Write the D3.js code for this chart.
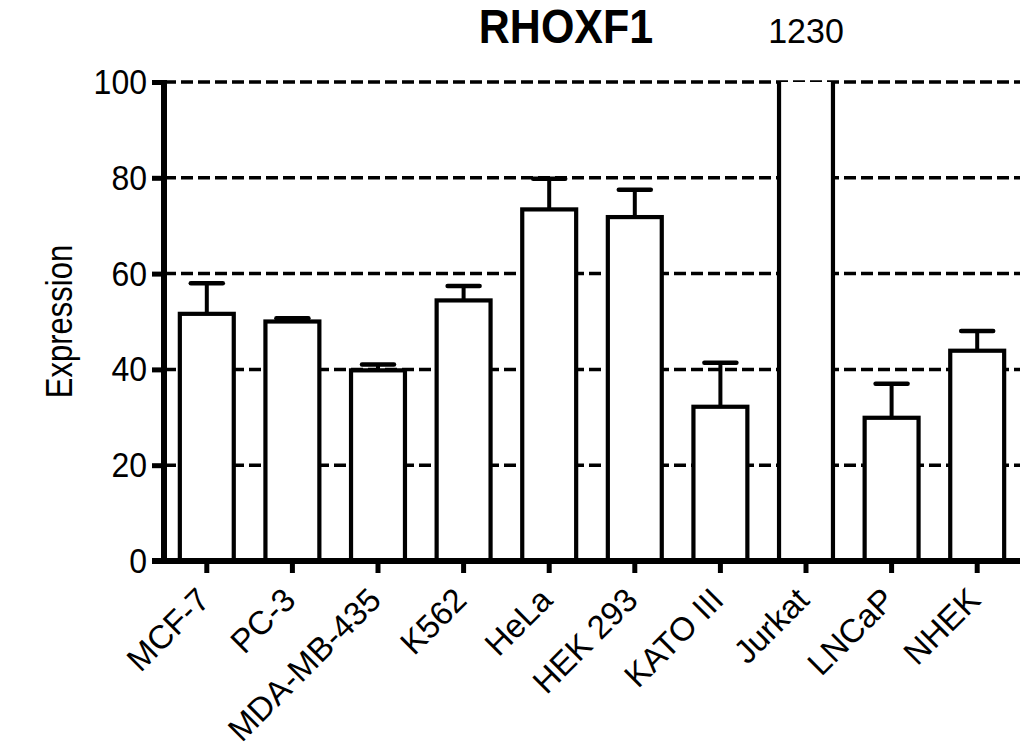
<!DOCTYPE html>
<html>
<head>
<meta charset="utf-8">
<script src="https://cdn.jsdelivr.net/npm/d3@7"></script>
<style>
  body { margin: 0; background: #fff; }
  svg { display: block; font-family: "Liberation Sans", Arial, Helvetica, sans-serif; }
</style>
</head>
<body>
<div id="chart"></div>
<script>
// cell lines and RHOXF1 expression (mean + upper error)
const cellLines = ["MCF-7", "PC-3", "MDA-MB-435", "K562", "HeLa", "HEK 293", "KATO III", "Jurkat", "LNCaP", "NHEK"];
const expression = [51.6, 50.0, 39.8, 54.4, 73.4, 71.8, 32.2, 1230, 29.9, 43.9];
const errors = [6.4, 0.7, 1.2, 3.0, 6.4, 5.7, 9.2, 0, 7.1, 4.1];
const yTicks = [0, 20, 40, 60, 80, 100];
const yMax = 100;

const W = 1020, H = 752;
const margin = {top: 82, right: 0, bottom: 191, left: 164};
const width = W - margin.left - margin.right,
      height = H - margin.top - margin.bottom;

const data = cellLines.map((c, i) => ({name: c, value: expression[i], err: errors[i]}));

const svg = d3.select("#chart").append("svg")
    .attr("width", W)
    .attr("height", H)
    .style("background", "#fff");

const x = d3.scaleBand()
    .domain(cellLines)
    .range([0, width])
    .paddingInner(0.37)
    .paddingOuter(0.185);

const y = d3.scaleLinear()
    .domain([0, yMax])
    .range([height, 0]);

const g = svg.append("g").attr("transform", `translate(${margin.left},${margin.top})`);

svg.append("defs").append("clipPath").attr("id", "plotclip")
  .append("rect")
    .attr("x", -10).attr("y", 0)
    .attr("width", width + 20).attr("height", height + 10);

// dashed gridlines
g.append("g")
  .selectAll("line")
  .data(yTicks.filter(d => d > 0))
  .join("line")
    .attr("x1", 0).attr("x2", width)
    .attr("y1", d => y(d)).attr("y2", d => y(d))
    .attr("stroke", "#000")
    .attr("stroke-width", 3.5)
    .attr("stroke-dasharray", "12,5");

const bars = g.append("g").attr("clip-path", "url(#plotclip)");

// error bars (upper only)
bars.selectAll("g.err")
  .data(data.filter(d => d.err > 0))
  .join("g")
    .attr("class", "err")
    .each(function(d) {
      const cx = x(d.name) + x.bandwidth() / 2;
      const s = d3.select(this);
      s.append("line")
        .attr("x1", cx).attr("x2", cx)
        .attr("y1", y(d.value)).attr("y2", y(d.value + d.err))
        .attr("stroke", "#000").attr("stroke-width", 4);
      s.append("line")
        .attr("x1", cx - 16).attr("x2", cx + 16)
        .attr("y1", y(d.value + d.err)).attr("y2", y(d.value + d.err))
        .attr("stroke", "#000").attr("stroke-width", 4.5)
        .attr("stroke-linecap", "round");
    });

bars.selectAll("rect")
  .data(data)
  .join("rect")
    .attr("x", d => x(d.name))
    .attr("width", x.bandwidth())
    .attr("y", d => y(Math.min(d.value, yMax * 1.2)))
    .attr("height", d => y(0) - y(Math.min(d.value, yMax * 1.2)))
    .attr("fill", "#fff")
    .attr("stroke", "#000")
    .attr("stroke-width", 4.2);

// off-scale value label
g.selectAll("text.over")
  .data(data.filter(d => d.value > yMax))
  .join("text")
    .attr("class", "over")
    .attr("transform", d => `translate(${x(d.name) + x.bandwidth() / 2},-39) scale(1,1.05)`)
    .attr("text-anchor", "middle")
    .style("font-size", "34px")
    .text(d => d.value);

// y axis
const yAxis = g.append("g")
    .call(d3.axisLeft(y).tickValues(yTicks).tickSize(12).tickSizeOuter(0).tickPadding(5));
yAxis.select(".domain").attr("stroke-width", 6).attr("d", `M0,${-2}V${height + 3}`);
yAxis.selectAll(".tick line").attr("stroke-width", 5);
yAxis.selectAll(".tick text")
    .style("font-size", "32px")
    .attr("fill", "#000")
    .attr("dy", "0.32em")
    .attr("transform", "scale(1,1.12)");

// x axis
const xAxis = g.append("g")
    .attr("transform", `translate(0,${height})`)
    .call(d3.axisBottom(x).tickSize(12).tickSizeOuter(0));
xAxis.select(".domain").attr("stroke-width", 6).attr("d", `M-12,0H${width}`);
xAxis.selectAll(".tick line").attr("stroke-width", 5);
xAxis.selectAll(".tick text")
    .style("font-size", "33px")
    .attr("fill", "#000")
    .attr("text-anchor", "end")
    .attr("dy", null)
    .attr("y", 0)
    .attr("transform", "translate(5,41) rotate(-45)");

// title
svg.append("text")
    .attr("transform", "translate(566,43) scale(1,1.12)")
    .attr("text-anchor", "middle")
    .style("font-size", "43px")
    .style("font-weight", "bold")
    .text("RHOXF1");

// y label
svg.append("text")
    .attr("transform", `translate(72,${margin.top + height / 2}) rotate(-90) scale(1,1.2)`)
    .attr("text-anchor", "middle")
    .style("font-size", "31px")
    .text("Expression");
</script>
</body>
</html>
